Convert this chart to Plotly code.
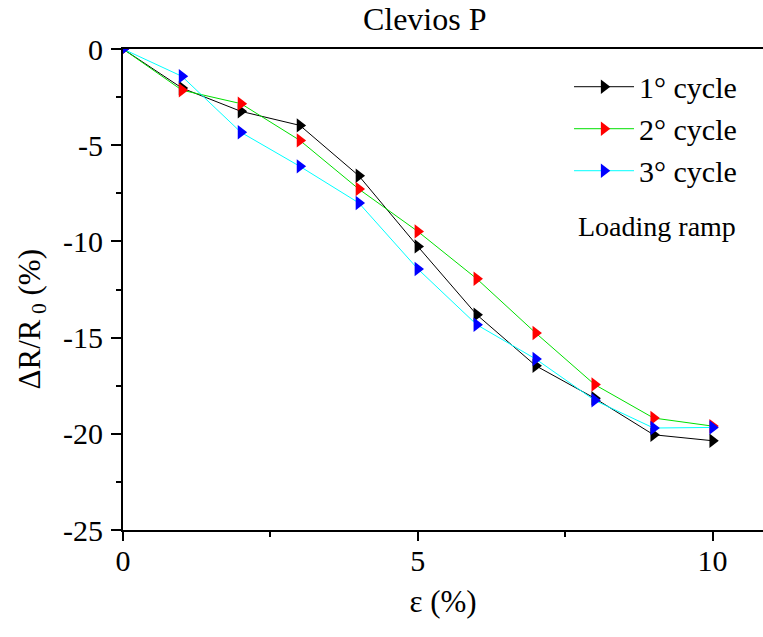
import plotly.graph_objects as go

# Strain steps (%) and relative resistance change (%) for three loading cycles
strain = [0, 1, 2, 3, 4, 5, 6, 7, 8, 9, 10]
cycle1 = [0, -2.03, -3.24, -3.97, -6.59, -10.26, -13.81, -16.46, -18.15, -20.05, -20.36]
cycle2 = [0, -2.14, -2.84, -4.75, -7.28, -9.48, -11.94, -14.76, -17.44, -19.18, -19.60]
cycle3 = [0, -1.42, -4.33, -6.10, -8.00, -11.43, -14.33, -16.11, -18.26, -19.70, -19.67]

x_ticks = [0, 5, 10]
y_ticks = [0, -5, -10, -15, -20, -25]

names = ["1° cycle", "2° cycle", "3° cycle"]
line_colors = ["#000000", "#00e000", "#00ffff"]
marker_colors = ["#000000", "#ff0000", "#0000ff"]

FONT = "Liberation Serif"
W, H = 763, 637
L, R, T, B = 122.5, 0, 49.3, 107
PW, PH = W - L - R, H - T - B

fig = go.Figure()
for name, ys, lc, mc in zip(names, [cycle1, cycle2, cycle3], line_colors, marker_colors):
    fig.add_trace(go.Scatter(
        x=strain, y=ys, name=name, mode="lines+markers",
        line=dict(color=lc, width=1),
        marker=dict(symbol="triangle-right", size=12.5, color=mc, line=dict(width=0)),
    ))

fig.add_annotation(
    text="Loading ramp", xref="paper", yref="paper",
    x=(738 - L) / PW, y=1 - (227 - T) / PH,
    xanchor="right", yanchor="middle", showarrow=False,
    font=dict(family=FONT, size=28, color="#000"),
)

# y-axis title drawn as a rotated annotation
fig.add_annotation(
    text="ΔR/R<sub> 0</sub> (%)", xref="paper", yref="paper",
    x=-(L - 31) / PW, y=1 - (320 - T) / PH,
    xanchor="center", yanchor="middle", textangle=-90, showarrow=False,
    font=dict(family=FONT, size=31, color="#000"),
)

fig.update_layout(
    width=W, height=H,
    margin=dict(l=L, r=R, t=T, b=B, pad=0),
    paper_bgcolor="white", plot_bgcolor="white",
    font=dict(family=FONT, size=30, color="#000"),
    title=dict(text="Clevios P", x=424.7 / W, xref="container", xanchor="center",
               y=1 - 19 / H, yref="container", yanchor="middle",
               font=dict(family=FONT, size=32, color="#000")),
    legend=dict(x=(742 - L) / PW, y=1 - (61 - T) / PH,
                xanchor="right", yanchor="top", bgcolor="rgba(0,0,0,0)",
                font=dict(family=FONT, size=30, color="#000"),
                itemwidth=60, tracegroupgap=0),
    showlegend=True,
)

fig.update_xaxes(
    range=[0, PW / 59.0],
    tickvals=x_ticks, ticktext=[str(v) for v in x_ticks],
    ticks="outside", ticklen=9, tickwidth=2, tickcolor="#000",
    minor=dict(tickvals=[2.5, 7.5], ticks="outside", ticklen=5, tickwidth=2, tickcolor="#000"),
    showline=True, linecolor="#000", linewidth=2, mirror=True,
    showgrid=False, zeroline=False,
    tickfont=dict(family=FONT, size=30, color="#000"),
    ticklabelstandoff=-6,
    title=dict(text="ε (%)", font=dict(family=FONT, size=31, color="#000"), standoff=14),
)
fig.update_yaxes(
    range=[-25, 0],
    tickvals=y_ticks, ticktext=[str(v) for v in y_ticks],
    ticks="outside", ticklen=10, tickwidth=2, tickcolor="#000",
    minor=dict(tickvals=[-2.5, -7.5, -12.5, -17.5, -22.5], ticks="outside", ticklen=5,
               tickwidth=2, tickcolor="#000"),
    showline=True, linecolor="#000", linewidth=2,
    showgrid=False, zeroline=False,
    tickfont=dict(family=FONT, size=30, color="#000"),
    ticklabelstandoff=2,
)

fig.write_html("out.html")
